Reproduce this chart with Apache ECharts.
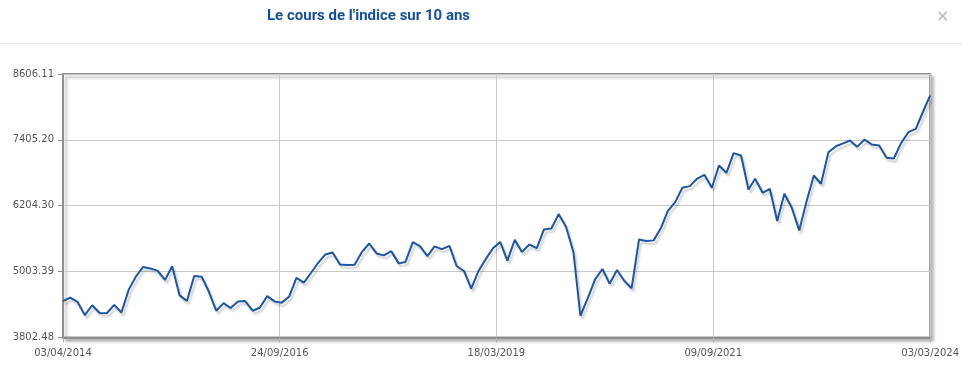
<!DOCTYPE html>
<html>
<head>
<meta charset="utf-8">
<script src="https://cdn.jsdelivr.net/npm/echarts@6/dist/echarts.min.js"></script>
<style>
html,body{margin:0;padding:0;background:#fff;}
#c{width:962px;height:374px;}
</style>
</head>
<body>
<div id="c"></div>
<script>
const titleText = "Le cours de l'indice sur 10 ans";
const startYear = 2014, startMonth = 4, monthCount = 120;
const xTickDates = ['2014-04-03', '2016-09-24', '2019-03-18', '2021-09-09', '2024-03-03'];
const yTicks = [3802.48, 5003.39, 6204.30, 7405.20, 8606.11];
const values = [
  4465, 4530, 4450, 4210, 4390, 4250, 4245, 4397, 4258, 4680,
  4923, 5086, 5060, 5022, 4852, 5100, 4570, 4471, 4923, 4911,
  4640, 4291, 4430, 4340, 4460, 4466, 4291, 4345, 4557, 4460,
  4438, 4551, 4889, 4804, 4988, 5160, 5317, 5353, 5132, 5124,
  5130, 5365, 5516, 5335, 5299, 5377, 5154, 5178, 5540, 5468,
  5287, 5462, 5414, 5474, 5106, 5015, 4692, 5020, 5240, 5425,
  5544, 5205, 5582, 5363, 5497, 5430, 5772, 5790, 6052, 5820,
  5357, 4199, 4522, 4857, 5052, 4784, 5034, 4833, 4700, 5590,
  5560, 5573, 5804, 6107, 6271, 6532, 6562, 6696, 6768, 6532,
  6938, 6805, 7163, 7120, 6501, 6696, 6441, 6514, 5925, 6423,
  6168, 5755, 6271, 6756, 6605, 7181, 7290, 7338, 7393, 7278,
  7411, 7320, 7302, 7078, 7066, 7350, 7545, 7605, 7927, 8218
];

function pad(n){ return n < 10 ? '0' + n : '' + n; }
function fmtDate(v){
  const d = new Date(v);
  return pad(d.getDate()) + '/' + pad(d.getMonth() + 1) + '/' + d.getFullYear();
}
function parseLocal(s){
  const p = s.split('-');
  return new Date(+p[0], +p[1] - 1, +p[2]).getTime();
}

const dates = [];
for (let k = 0; k < monthCount; k++) {
  const m0 = startMonth - 1 + k;
  const y = startYear + Math.floor(m0 / 12);
  const m = (m0 % 12) + 1;
  dates.push(y + '-' + pad(m) + '-03');
}
const seriesData = dates.map((d, i) => [parseLocal(d), values[i]]);
const xTickTs = xTickDates.map(parseLocal);

const chart = echarts.init(document.getElementById('c'), null, {renderer: 'canvas'});
chart.setOption({
  animation: false,
  backgroundColor: '#fff',
  title: {
    text: titleText,
    left: 267,
    top: 9,
    padding: 0,
    textStyle: {
      fontFamily: 'Roboto, "Liberation Sans", Arial, sans-serif',
      fontSize: 15,
      fontWeight: 'bold',
      color: '#1450a0'
    }
  },
  graphic: [
    {
      type: 'line',
      shape: {x1: 0, y1: 43.5, x2: 962, y2: 43.5},
      style: {stroke: '#e5e5e5', lineWidth: 1},
      silent: true
    },
    {
      type: 'text',
      left: 936,
      top: 9,
      style: {text: '×', fill: '#c4c4c4', fontSize: 16, fontFamily: '"DejaVu Sans", sans-serif', fontWeight: 'bold'},
      silent: true
    }
  ],
  grid: {
    left: 63,
    right: 28,
    top: 74,
    bottom: 36.5,
    show: true,
    backgroundColor: '#fff',
    borderColor: '#8f8f8f',
    borderWidth: 2,
    shadowColor: 'rgba(0,0,0,0.25)',
    shadowBlur: 3,
    shadowOffsetX: 3,
    shadowOffsetY: 3
  },
  xAxis: {
    type: 'value',
    min: xTickTs[0],
    max: xTickTs[xTickTs.length - 1],
    axisLine: {show: true, lineStyle: {color: '#8f8f8f', width: 2}},
    axisTick: {show: true, length: 5, lineStyle: {color: '#b0b0b0'}, customValues: xTickTs},
    axisLabel: {
      customValues: xTickTs,
      formatter: fmtDate,
      color: '#555',
      fontSize: 10,
      fontFamily: '"DejaVu Sans", sans-serif',
      margin: 11,
      hideOverlap: false
    },
    splitLine: {show: true, lineStyle: {color: '#c8c8c8', width: 1}}
  },
  yAxis: {
    type: 'value',
    min: yTicks[0],
    max: yTicks[yTicks.length - 1],
    axisLine: {show: true, lineStyle: {color: '#8f8f8f', width: 2}},
    axisTick: {show: true, length: 5, lineStyle: {color: '#8f8f8f'}, customValues: yTicks},
    axisLabel: {
      customValues: yTicks,
      formatter: v => Number(v).toFixed(2),
      color: '#555',
      fontSize: 10,
      fontFamily: '"DejaVu Sans", sans-serif',
      margin: 9
    },
    splitLine: {show: true, lineStyle: {color: '#c8c8c8', width: 1}}
  },
  series: [{
    type: 'line',
    data: seriesData,
    symbol: 'none',
    lineStyle: {
      color: '#1c56a2',
      width: 2,
      shadowColor: 'rgba(0,0,0,0.2)',
      shadowBlur: 2,
      shadowOffsetX: 2,
      shadowOffsetY: 3
    },
    itemStyle: {color: '#1c56a2'}
  }]
});
</script>
</body>
</html>
